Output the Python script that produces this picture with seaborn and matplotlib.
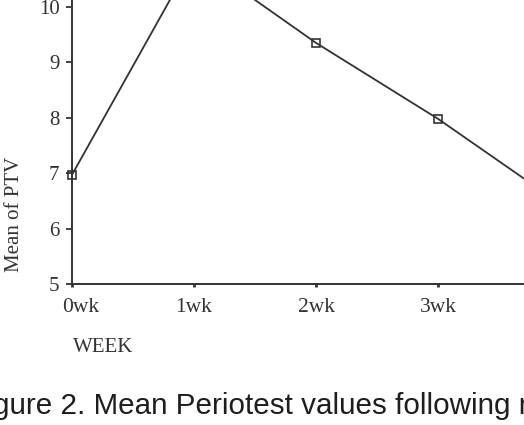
import numpy as np
import pandas as pd
import matplotlib
matplotlib.use("Agg")
import matplotlib.pyplot as plt
import matplotlib.transforms as mtransforms
import seaborn as sns

# values
weeks = ["0wk", "1wk", "2wk", "3wk", "4wk"]
ptv_mean = [6.97, 10.9, 9.35, 7.98, 6.45]
y_ticks = [5, 6, 7, 8, 9, 10]
# the scan is cropped, so only part of the caption shows
caption = "gure 2. Mean Periotest values following r"

df = pd.DataFrame({"WEEK": weeks, "PTV": ptv_mean})

sns.set_style("ticks")
plt.rcParams["font.family"] = ["Liberation Serif", "DejaVu Serif"]

fig = plt.figure(figsize=(5.24, 4.25), dpi=100)
# axes run off the top and right edges, as in the cropped scan
ax = fig.add_axes([72 / 524, 141 / 425, 610 / 524, 388 / 425])

ink = "#333333"
sns.lineplot(data=df, x="WEEK", y="PTV", ax=ax, color=ink, linewidth=1.3,
             marker="s", markersize=6, markerfacecolor="none",
             markeredgecolor=ink, markeredgewidth=1.2, clip_on=False)

ax.set_xlim(0, 5)
ax.set_ylim(5, 12)
ax.set_yticks(y_ticks)
ax.set_yticklabels([str(v) for v in y_ticks])
ax.set_xticks(range(4))
ax.set_xticklabels(weeks[:4])
ax.tick_params(axis="y", length=4, width=1.3, pad=5, labelsize=15, colors=ink)
ax.tick_params(axis="x", length=2, width=2, pad=8, labelsize=15.5, colors=ink)
# first label sits a little right of its tick in the scan
lab0 = ax.get_xticklabels()[0]
lab0.set_transform(lab0.get_transform()
                   + mtransforms.ScaledTranslation(0.09, 0, fig.dpi_scale_trans))
for side in ["top", "right"]:
    ax.spines[side].set_visible(False)
for side in ["left", "bottom"]:
    ax.spines[side].set_color(ink)
    ax.spines[side].set_linewidth(1.4)

ax.set_xlabel("")
ax.set_ylabel("")
fig.text(15 / 524, 1 - 214 / 425, "Mean of PTV", rotation=90, ha="center",
         va="center", fontsize=15, color=ink)
fig.text(73 / 524, 1 - 348 / 425, "WEEK", ha="left", va="center",
         fontsize=15, color=ink)
fig.text(-7 / 524, 1 - 414 / 425, caption, ha="left", va="baseline",
         fontsize=21.3, color="#1e1e1e", family=["Liberation Sans", "DejaVu Sans"])

fig.savefig("out.png", dpi=100)
plt.close(fig)
